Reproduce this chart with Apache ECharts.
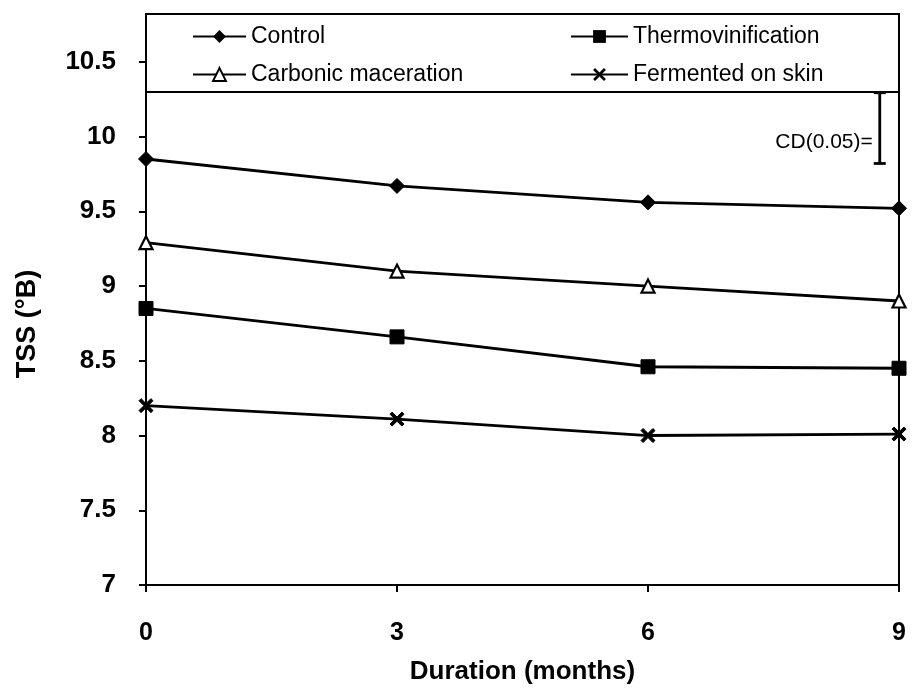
<!DOCTYPE html>
<html>
<head>
<meta charset="utf-8">
<script src="https://cdn.jsdelivr.net/npm/echarts@6/dist/echarts.min.js"></script>
<style>
  html, body { margin: 0; padding: 0; background: #fff; }
  #chart { width: 913px; height: 693px; }
</style>
</head>
<body>
<div id="chart"></div>
<script>
// months on the x axis
const months = [0, 3, 6, 9]
// TSS (°B) per treatment
const control = [9.85, 9.67, 9.56, 9.52]
const thermovinification = [8.85, 8.66, 8.46, 8.45]
const carbonicMaceration = [9.29, 9.1, 9.0, 8.9]
const fermentedOnSkin = [8.2, 8.11, 8.0, 8.01]
// y tick labels
const yTicks = [7, 7.5, 8, 8.5, 9, 9.5, 10, 10.5]
// CD(0.05) bar: x, low, high, label y
const cdBar = [[8.77, 9.82, 10.3, 9.96]]
// bottom of the legend box
const legendBoxBottom = 10.3

const font = 'Arial, "Liberation Sans", sans-serif'
const crossPath = 'path://M0,1.5L1.5,0L5,3.5L8.5,0L10,1.5L6.5,5L10,8.5L8.5,10L5,6.5L1.5,10L0,8.5L3.5,5Z'

function pairs(vals) {
  return months.map((m, i) => [m, vals[i]])
}

function lineSeries(name, vals, symbol, size, extra) {
  return Object.assign({
    name: name,
    type: 'line',
    data: pairs(vals),
    symbol: symbol,
    symbolSize: size,
    lineStyle: { color: '#000', width: 2.8 },
    itemStyle: { color: '#000', borderColor: '#000' },
    z: 3
  }, extra || {})
}

function legendAt(name, left, top, w) {
  return {
    data: [name],
    left: left,
    top: top,
    orient: 'horizontal',
    itemWidth: w,
    itemHeight: 16,
    selectedMode: false,
    textStyle: { fontFamily: font, fontSize: 23, color: '#000' }
  }
}

const chart = echarts.init(document.getElementById('chart'))
chart.setOption({
  animation: false,
  backgroundColor: '#fff',
  grid: {
    left: 146, right: 14, top: 14, bottom: 108,
    show: true, borderColor: '#000', borderWidth: 2
  },
  legend: [
    legendAt('Control', 187, 20, 53),
    legendAt('Thermovinification', 565, 20, 57),
    legendAt('Carbonic maceration', 187, 58, 53),
    legendAt('Fermented on skin', 565, 58, 57)
  ],
  xAxis: {
    type: 'value',
    min: 0, max: 9, interval: 3,
    name: 'Duration (months)',
    nameLocation: 'middle',
    nameGap: 74,
    nameTextStyle: { fontFamily: font, fontSize: 26, fontWeight: 'bold', color: '#000' },
    axisLine: { show: false },
    axisTick: { show: true, length: 7, lineStyle: { color: '#000', width: 2 } },
    axisLabel: { margin: 36, fontFamily: font, fontSize: 25, fontWeight: 'bold', color: '#000' },
    splitLine: { show: false }
  },
  yAxis: {
    type: 'value',
    min: 7, max: 10.82,
    axisLine: { show: false },
    axisTick: { show: true, length: 7, customValues: yTicks, lineStyle: { color: '#000', width: 2 } },
    axisLabel: { margin: 30, customValues: yTicks, fontFamily: font, fontSize: 26, fontWeight: 'bold', color: '#000' },
    splitLine: { show: false }
  },
  graphic: [{
    type: 'text',
    x: 28, y: 324,
    rotation: Math.PI / 2,
    style: { text: 'TSS (°B)', align: 'center', verticalAlign: 'middle', font: 'bold 27px ' + font, fill: '#000' }
  }],
  series: [
    lineSeries('Control', control, 'diamond', 15, {
      markLine: {
        silent: true,
        symbol: 'none',
        label: { show: false },
        lineStyle: { color: '#000', type: 'solid', width: 2 },
        data: [{ yAxis: legendBoxBottom }]
      }
    }),
    lineSeries('Thermovinification', thermovinification, 'rect', 14),
    lineSeries('Carbonic maceration', carbonicMaceration, 'triangle', 13, {
      itemStyle: { color: '#fff', borderColor: '#000', borderWidth: 2.2 }
    }),
    lineSeries('Fermented on skin', fermentedOnSkin, crossPath, 14),
    {
      type: 'custom',
      name: 'CD',
      data: cdBar,
      clip: false,
      encode: { x: 0, y: [1, 2] },
      renderItem: function (params, api) {
        const lo = api.coord([api.value(0), api.value(1)])
        const hi = api.coord([api.value(0), api.value(2)])
        const ly = api.coord([api.value(0), api.value(3)])[1]
        const st = { stroke: '#000', lineWidth: 2.8 }
        return {
          type: 'group',
          children: [
            { type: 'line', shape: { x1: lo[0], y1: lo[1], x2: hi[0], y2: hi[1] }, style: st },
            { type: 'line', shape: { x1: lo[0] - 6, y1: lo[1], x2: lo[0] + 6, y2: lo[1] }, style: st },
            { type: 'line', shape: { x1: hi[0] - 6, y1: hi[1] + 1, x2: hi[0] + 6, y2: hi[1] + 1 }, style: st },
            { type: 'text', style: { text: 'CD(0.05)=', x: lo[0] - 7, y: ly, align: 'right', verticalAlign: 'middle', font: '21px ' + font, fill: '#000' } }
          ]
        }
      }
    }
  ]
})
window.addEventListener('resize', () => chart.resize())
</script>
</body>
</html>
